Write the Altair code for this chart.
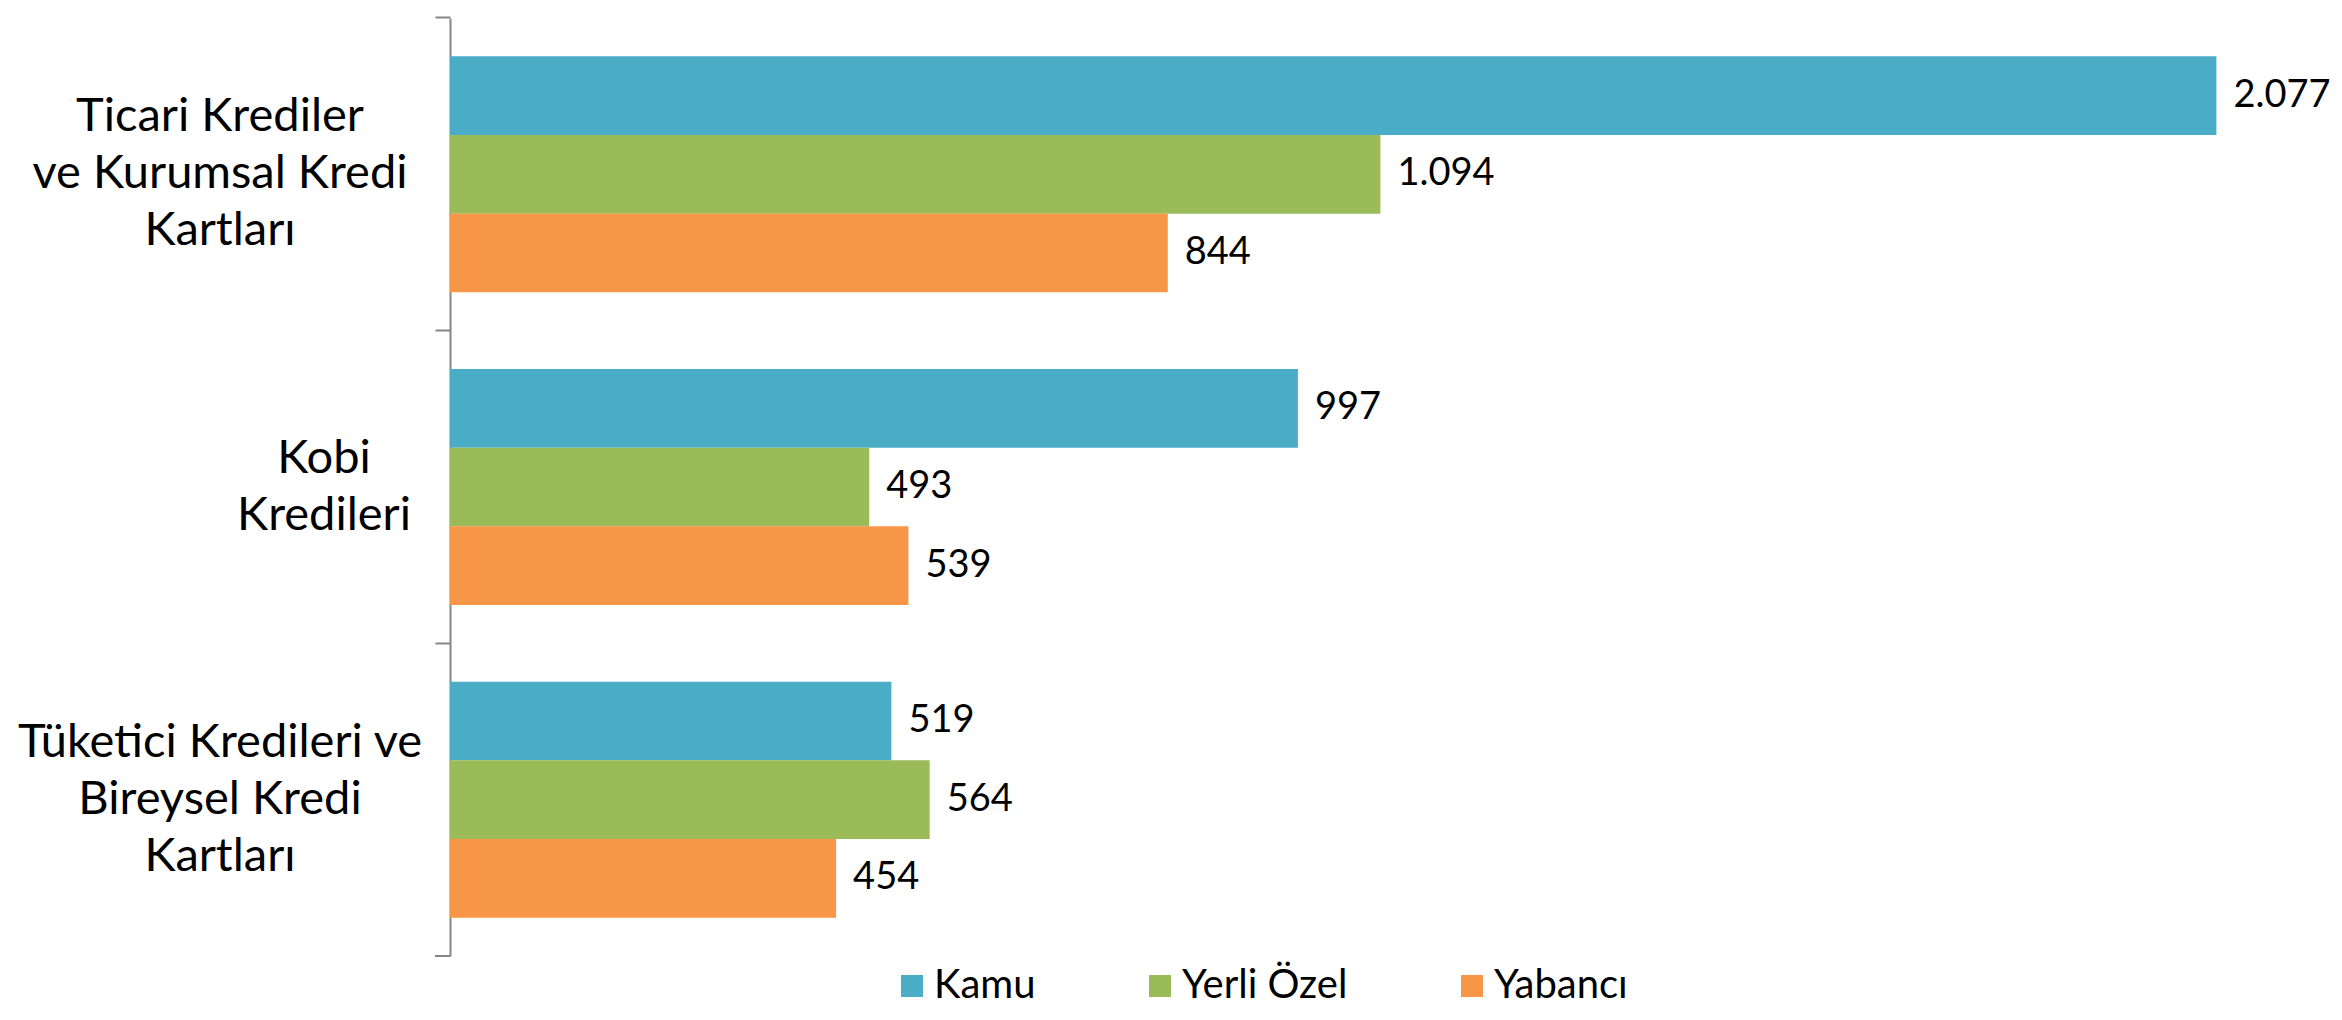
import altair as alt
import pandas as pd

categories = [
    "Ticari Krediler|ve Kurumsal Kredi|Kartları",
    "Kobi|Kredileri",
    "Tüketici Kredileri ve|Bireysel Kredi|Kartları",
]
series = ["Kamu", "Yerli Özel", "Yabancı"]
kamu = [2077, 997, 519]
yerli_ozel = [1094, 493, 564]
yabanci = [844, 539, 454]
colors = ["#4BACC6", "#9BBB59", "#F79646"]

rows = []
for i, c in enumerate(categories):
    for s, vals in zip(series, [kamu, yerli_ozel, yabanci]):
        rows.append({"cat": c, "series": s, "value": vals[i]})
df = pd.DataFrame(rows)
cat_df = pd.DataFrame({"cat": categories})

FONT = "Lato"
W, H = 1871, 938
LINE_H = 57

y_enc = alt.Y("cat:N", sort=categories,
              scale=alt.Scale(paddingInner=0.245, paddingOuter=0.1225),
              axis=alt.Axis(title=None, labels=False, ticks=True, tickSize=15,
                            tickColor="#868686", tickWidth=2, bandPosition=-0.1623,
                            domainColor="#868686", domainWidth=2, grid=False))
yoff = alt.YOffset("series:N", sort=series,
                   scale=alt.Scale(paddingInner=0, paddingOuter=0))

xscale = alt.Scale(domain=[0, 2200], nice=False)

bars = alt.Chart(df).mark_bar().encode(
    x=alt.X("value:Q", scale=xscale, axis=None),
    y=y_enc,
    yOffset=yoff,
    color=alt.Color("series:N", sort=series,
                    scale=alt.Scale(domain=series, range=colors),
                    legend=alt.Legend(title=None, orient="none", direction="horizontal",
                                      legendX=442, legendY=948,
                                      symbolType="square", symbolSize=484,
                                      symbolStrokeWidth=0, labelFont=FONT,
                                      labelFontSize=40, labelColor="#000000",
                                      labelOffset=2, columnPadding=104,
                                      labelLimit=400)),
)

labels = alt.Chart(df).transform_calculate(
    lbl="replace(format(datum.value, ','), ',', '.')"
).mark_text(align="left", baseline="middle", dx=17, font=FONT, fontSize=38,
            color="#000000").encode(
    x=alt.X("value:Q", scale=xscale),
    y=alt.Y("cat:N", sort=categories),
    yOffset=alt.YOffset("series:N", sort=series),
    text="lbl:N",
)

cat_text_main = alt.Chart(cat_df).transform_filter(
    "datum.cat != 'Kobi|Kredileri'"
).transform_calculate(
    lines="split(datum.cat, '|')"
).mark_text(align="center", baseline="middle", font=FONT, fontSize=47,
            lineHeight=LINE_H, dy=-LINE_H, color="#000000").encode(
    x=alt.value(-230),
    y=alt.Y("cat:N", sort=categories),
    text="lines:N",
)

cat_text_kobi = alt.Chart(cat_df).transform_filter(
    "datum.cat == 'Kobi|Kredileri'"
).transform_calculate(
    lines="split(datum.cat, '|')"
).mark_text(align="center", baseline="middle", font=FONT, fontSize=47,
            lineHeight=LINE_H, dy=-LINE_H / 2, color="#000000").encode(
    x=alt.value(-126),
    y=alt.Y("cat:N", sort=categories),
    text="lines:N",
)

bottom_tick = alt.Chart(cat_df).mark_rule(color="#868686", strokeWidth=2).encode(
    x=alt.value(-15), x2=alt.value(0), y=alt.value(H)
).transform_filter("datum.cat == 'Kobi|Kredileri'")

chart = alt.layer(bars, labels, cat_text_main, cat_text_kobi, bottom_tick).properties(
    width=W, height=H,
    autosize=alt.AutoSizeParams(type="none"),
    padding={"left": 442, "top": 10, "right": 13, "bottom": 56},
).configure(font=FONT).configure_view(stroke=None)

chart.save("out.html", embed_options={"renderer": "svg", "actions": False})
